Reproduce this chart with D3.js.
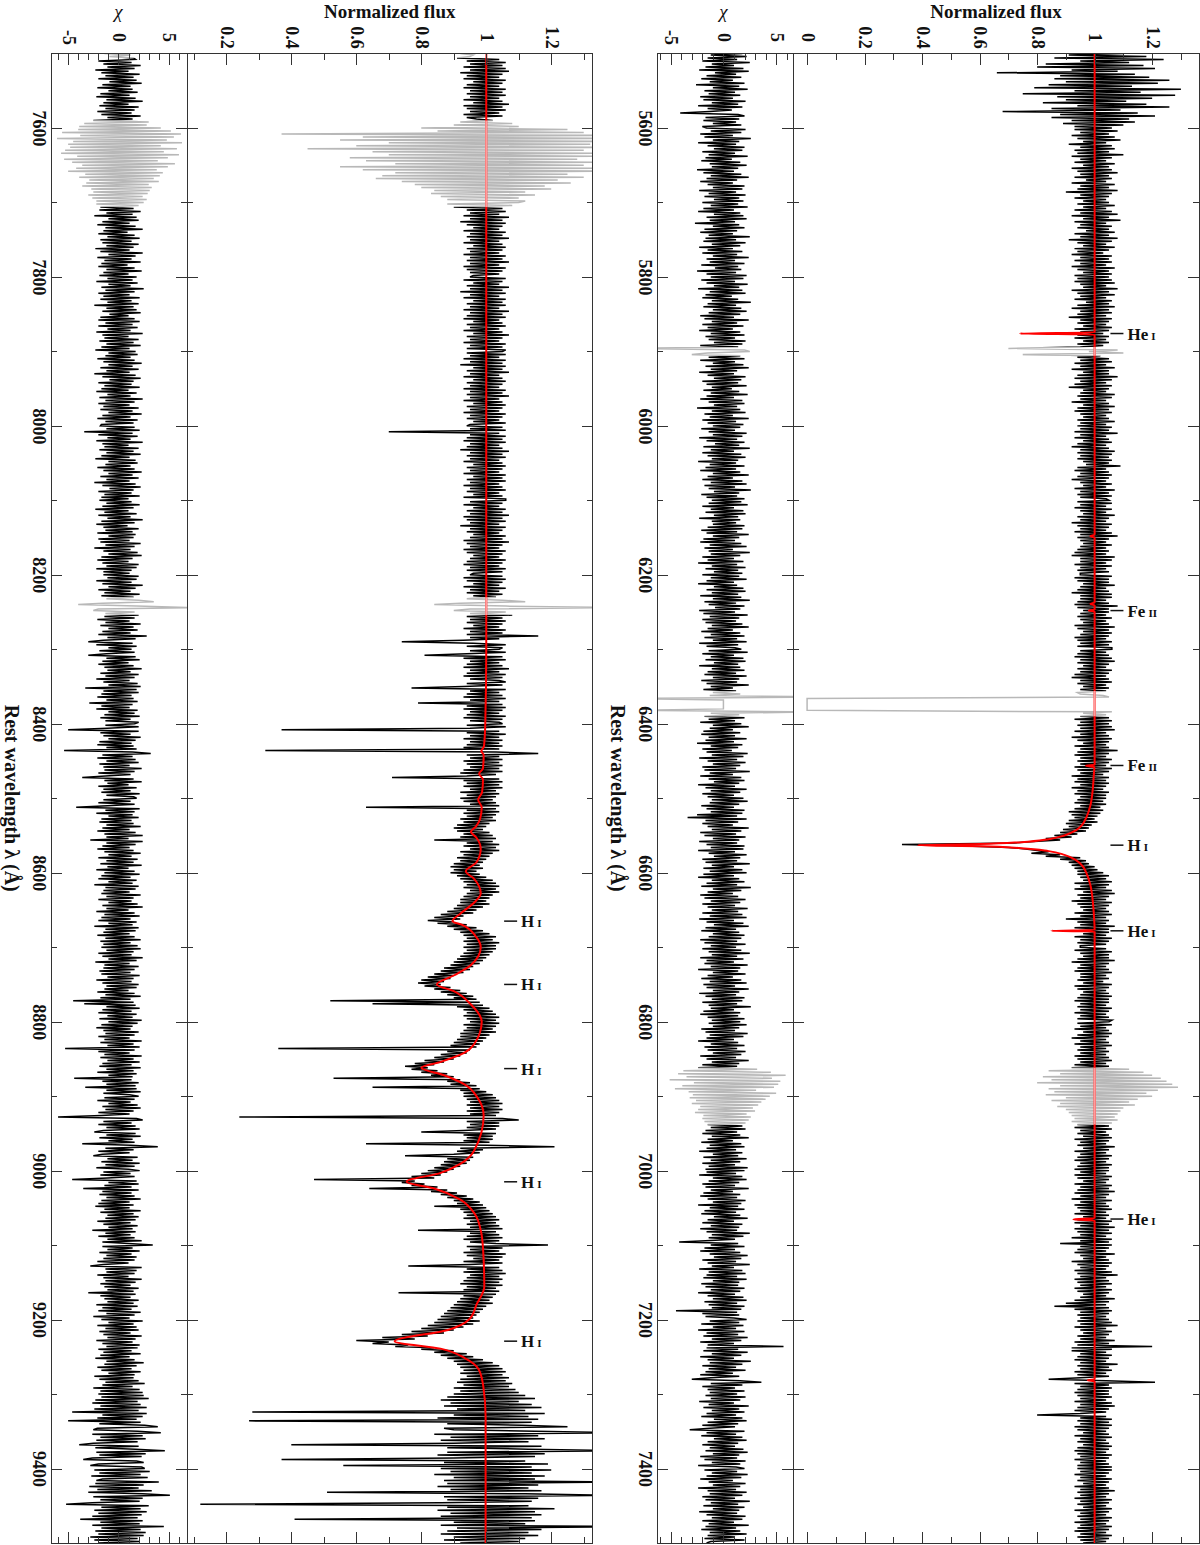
<!DOCTYPE html>
<html>
<head>
<meta charset="utf-8">
<script src="https://cdn.jsdelivr.net/npm/d3@7"></script>
<style>
  body { margin: 0; background: #fff; }
  svg text { font-family: "Liberation Serif", "Times New Roman", serif; font-weight: bold; fill: #111; }
</style>
</head>
<body>
<div id="chart"></div>
<script>
/**
 * Size of the page.
 */
var WIDTH = 1200, HEIGHT = 1545;

/**
 * Spectra are sampled every STEP angstrom from the panel start.
 */
var STEP = 2;
var topStart = 5500, botStart = 7500, SPAN = 2000;

// observed normalized flux, 5500-7500 A (five lines = 100 A)
var topFlux = [
  1.10, 0.91, 1.18, 0.86, 1.24, 0.95, 1.12, 0.83, 1.17, 0.80,
  1.21, 0.92, 1.08, 0.66, 1.14, 0.88, 1.19, 0.86, 1.26, 0.90,
  1.22, 0.84, 1.13, 0.79, 1.30, 0.93, 1.16, 0.75, 1.28, 0.87,
  1.20, 0.90, 1.11, 0.82, 1.18, 0.94, 1.26, 0.85, 1.09, 0.68,
  1.15, 0.88, 1.21, 0.85, 1.12, 0.92, 1.14, 0.89, 1.10, 0.93,
  1.06, 0.93, 1.08, 0.95, 1.05, 0.92, 1.07, 0.94, 1.09, 0.96,
  1.04, 0.91, 1.06, 0.95, 1.07, 0.93, 1.05, 0.94, 1.10, 0.92,
  1.06, 0.95, 1.04, 0.93, 1.07, 0.96, 1.05, 0.92, 1.06, 0.94,
  1.08, 0.95, 1.05, 0.93, 1.06, 0.97, 1.04, 0.92, 1.07, 0.95,
  1.05, 0.94, 1.08, 0.90, 1.06, 0.95, 1.05, 0.93, 1.04, 0.96,
  1.05, 0.94, 1.07, 0.96, 1.04, 0.93, 1.06, 0.95, 1.08, 0.92,
  1.05, 0.96, 1.09, 0.93, 1.04, 0.95, 1.06, 0.94, 1.05, 0.97,
  1.07, 0.93, 1.05, 0.95, 1.08, 0.91, 1.06, 0.94, 1.04, 0.96,
  1.07, 0.93, 1.05, 0.94, 1.03, 0.92, 1.06, 0.95, 1.05, 0.93,
  1.06, 0.95, 1.04, 0.92, 1.07, 0.94, 1.05, 0.96, 1.06, 0.93,
  1.05, 0.94, 1.06, 0.93, 1.07, 0.95, 1.04, 0.96, 1.08, 0.92,
  1.05, 0.94, 1.07, 0.95, 1.04, 0.93, 1.06, 0.97, 1.05, 0.94,
  1.07, 0.92, 1.05, 0.95, 1.06, 0.94, 1.04, 0.91, 1.06, 0.95,
  1.05, 0.94, 1.04, 0.96, 1.06, 0.93, 1.05, 0.95, 1.03, 0.94,
  1.05, 0.93, 1.04, 0.96, 1.05, 0.94, 1.03, 0.95, 0.70, 1.08,
  0.98, 1.10, 0.75, 1.02, 0.94, 1.05, 0.95, 1.06, 0.93, 1.04,
  0.95, 1.07, 0.92, 1.05, 0.96, 1.05, 0.94, 1.08, 0.93, 1.06,
  0.95, 1.04, 0.93, 1.06, 0.91, 1.05, 0.96, 1.04, 0.95, 1.07,
  0.94, 1.06, 0.95, 1.04, 0.92, 1.05, 0.96, 1.07, 0.94, 1.05,
  0.93, 1.06, 0.95, 1.04, 0.96, 1.05, 0.94, 1.07, 0.95, 1.04,
  0.94, 1.06, 0.95, 1.05, 0.93, 1.08, 0.95, 1.04, 0.93, 1.05,
  0.96, 1.06, 0.94, 1.04, 0.92, 1.05, 0.95, 1.07, 0.94, 1.06,
  0.95, 1.05, 0.94, 1.06, 0.96, 1.05, 0.97, 1.09, 0.94, 1.04,
  0.93, 1.05, 0.95, 1.06, 0.94, 1.05, 0.92, 1.04, 0.95, 1.06,
  0.96, 1.04, 0.93, 1.07, 0.95, 1.05, 0.94, 1.06, 0.95, 1.04,
  1.05, 0.94, 1.06, 0.95, 1.04, 0.93, 1.06, 0.95, 1.04, 0.96,
  1.07, 0.94, 1.05, 0.95, 1.04, 0.92, 1.06, 0.94, 1.05, 0.95,
  1.04, 0.93, 1.06, 0.95, 1.08, 0.94, 1.05, 0.95, 1.04, 0.96,
  1.06, 0.95, 1.04, 0.94, 1.05, 0.93, 1.04, 0.92, 1.07, 0.95,
  1.06, 0.95, 1.04, 0.93, 1.06, 0.95, 1.04, 0.94, 1.05, 0.95,
  0.95, 1.06, 0.93, 1.05, 0.94, 1.05, 0.96, 1.07, 0.95, 1.04,
  0.94, 1.05, 0.92, 1.06, 0.95, 1.06, 0.95, 1.04, 0.94, 1.05,
  0.93, 1.08, 0.94, 1.05, 0.96, 1.05, 0.95, 1.04, 0.94, 1.06,
  0.95, 1.04, 0.96, 1.05, 0.93, 1.07, 0.94, 1.05, 0.96, 1.06,
  0.95, 1.05, 0.93, 1.04, 0.94, 1.06, 0.95, 1.05, 0.94, 1.06,
  1.06, 0.95, 1.04, 0.94, 1.05, 0.93, 1.06, 0.95, 1.07, 0.94,
  1.05, 0.96, 1.04, 0.94, 1.06, 0.95, 1.05, 0.93, 1.04, 0.92,
  1.05, 0.95, 1.06, 0.94, 1.04, 0.96, 1.05, 0.95, 1.04, 0.94,
  0.95, 1.03, 1.05, 0.00, 0.00, 0.00, 0.00, 0.00, 0.00, 0.00,
  0.00, 0.00, 1.06, 0.96, 1.04, 0.95, 1.05, 0.93, 1.06, 0.95,
  1.05, 0.94, 1.06, 0.95, 1.07, 0.93, 1.04, 0.95, 1.05, 0.92,
  1.06, 0.94, 1.05, 0.96, 1.04, 0.93, 1.05, 0.95, 1.08, 0.94,
  1.05, 0.93, 1.04, 0.95, 1.06, 0.94, 1.05, 0.95, 1.04, 0.93,
  1.06, 0.94, 1.05, 0.95, 1.03, 0.92, 1.05, 0.94, 1.04, 0.93,
  1.05, 0.95, 1.04, 0.92, 1.03, 0.94, 1.05, 0.93, 1.04, 0.95,
  1.04, 0.94, 1.03, 0.93, 1.04, 0.95, 1.02, 0.93, 1.03, 0.91,
  1.02, 0.92, 1.01, 0.93, 1.00, 0.91, 1.01, 0.90, 0.99, 0.91,
  0.98, 0.89, 0.97, 0.88, 0.94, 0.86, 0.92, 0.83, 0.88, 0.79,
  0.72, 0.33, 0.55, 0.70, 0.76, 0.80, 0.84, 0.78, 0.88, 0.83,
  0.95, 0.88, 0.97, 0.91, 0.98, 0.92, 1.00, 0.93, 1.01, 0.94,
  1.03, 0.94, 1.05, 0.95, 1.04, 0.96, 1.06, 0.93, 1.05, 0.95,
  1.04, 0.93, 1.06, 0.96, 1.07, 0.94, 1.05, 0.95, 1.04, 0.92,
  1.06, 0.94, 1.05, 0.95, 1.04, 0.96, 1.05, 0.93, 1.06, 0.95,
  1.04, 0.90, 1.05, 0.94, 1.04, 0.95, 1.07, 0.93, 1.05, 0.94,
  1.05, 0.96, 1.04, 0.93, 1.06, 0.95, 1.05, 0.94, 1.04, 0.95,
  0.95, 1.04, 0.93, 1.06, 0.95, 1.05, 0.96, 1.05, 0.94, 1.07,
  0.92, 1.05, 0.95, 1.04, 0.94, 1.05, 0.93, 1.06, 0.95, 1.04,
  0.95, 1.05, 0.94, 1.03, 0.96, 1.06, 0.93, 1.05, 0.94, 1.04,
  0.96, 1.05, 0.95, 1.06, 0.94, 1.05, 0.93, 1.05, 0.95, 1.04,
  0.94, 1.06, 0.95, 1.05, 0.93, 1.04, 0.95, 1.05, 0.94, 1.06,
  1.05, 0.94, 1.06, 0.95, 1.04, 0.93, 1.05, 0.96, 1.06, 0.94,
  1.05, 0.92, 1.04, 0.95, 1.05, 0.93, 1.06, 0.95, 1.04, 0.94,
  1.05, 0.95, 1.04, 0.93, 1.05, 0.94, 1.06, 0.95, 1.04, 0.93,
  1.05, 0.92, 1.12, 0.84, 1.17, 0.88, 1.20, 0.82, 1.23, 0.85,
  1.25, 0.80, 1.27, 0.88, 1.29, 0.84, 1.22, 0.86, 1.18, 0.83,
  1.20, 0.90, 1.15, 0.85, 1.12, 0.88, 1.14, 0.87, 1.10, 0.90,
  1.09, 0.91, 1.08, 0.92, 1.07, 0.93, 1.08, 0.92, 1.06, 0.94,
  1.05, 0.93, 1.06, 0.95, 1.04, 0.94, 1.05, 0.96, 1.06, 0.93,
  1.05, 0.95, 1.04, 0.94, 1.07, 0.96, 1.05, 0.93, 1.04, 0.95,
  1.06, 0.94, 1.05, 0.93, 1.04, 0.95, 1.06, 0.94, 1.05, 0.93,
  1.05, 0.95, 1.04, 0.93, 1.06, 0.94, 1.05, 0.96, 1.04, 0.93,
  1.06, 0.95, 1.05, 0.94, 1.07, 0.93, 1.05, 0.95, 1.04, 0.92,
  1.06, 0.95, 1.04, 0.93, 1.05, 0.94, 1.06, 0.95, 1.04, 0.93,
  1.05, 0.96, 1.04, 0.94, 1.06, 0.93, 1.05, 0.95, 1.07, 0.93,
  1.05, 0.94, 1.06, 0.95, 1.04, 0.92, 1.06, 0.95, 1.05, 0.88,
  1.06, 0.95, 1.05, 0.94, 1.04, 0.93, 1.07, 0.95, 1.04, 0.96,
  1.05, 0.92, 1.06, 0.94, 1.05, 0.95, 1.04, 0.93, 1.06, 0.94,
  1.08, 0.95, 1.04, 0.93, 1.05, 0.94, 1.06, 0.95, 1.04, 0.93,
  1.06, 0.94, 1.05, 0.96, 1.04, 0.95, 1.07, 0.93, 1.05, 0.90,
  1.04, 0.86, 1.05, 0.93, 1.06, 0.95, 1.05, 0.94, 1.04, 0.95,
  1.05, 0.94, 1.06, 0.95, 1.08, 0.93, 1.04, 0.95, 1.06, 0.96,
  1.05, 0.94, 1.04, 0.95, 1.07, 0.93, 1.05, 0.94, 1.20, 0.92,
  1.06, 0.92, 1.04, 0.95, 1.06, 0.94, 1.05, 0.93, 1.04, 0.95,
  1.08, 0.94, 1.05, 0.95, 1.06, 0.93, 1.04, 0.94, 1.05, 0.95,
  0.84, 1.04, 1.21, 0.93, 1.05, 0.95, 1.06, 0.94, 1.05, 0.93,
  1.05, 0.94, 1.06, 0.95, 1.04, 0.93, 1.06, 0.95, 1.07, 0.94,
  1.05, 0.93, 1.04, 0.95, 0.80, 1.04, 0.95, 1.06, 0.94, 1.05,
  0.95, 1.06, 0.93, 1.05, 0.94, 1.04, 0.96, 1.05, 0.93, 1.06,
  0.95, 1.04, 0.94, 1.05, 0.96, 1.06, 0.94, 1.05, 0.93, 1.04,
  0.94, 1.06, 0.95, 1.05, 0.93, 1.04, 0.95, 1.05, 0.94, 1.06,
  0.94, 1.06, 0.95, 1.05, 0.93, 1.04, 0.95, 1.06, 0.94, 1.05,
  0.96, 1.04, 0.93, 1.05, 0.95, 1.07, 0.94, 1.05, 0.95, 1.04,
  0.93, 1.06, 0.95, 1.05, 0.94, 1.04, 0.96, 1.06, 0.93, 1.05,
  0.95, 1.04, 0.94, 1.06, 0.95, 1.05, 0.93, 1.04, 0.95, 1.06,
  0.94, 1.05, 0.93, 1.04, 0.95, 1.06, 0.94, 1.05, 0.95, 1.04,
  0.96
];

// residuals chi, 5500-7500 A
var topChi = [
  1.8, -1.2, 2.2, -1.5, 1.3, -2.0, 2.5, -1.1, 1.0, -1.7,
  1.9, -2.3, 2.4, -0.8, 1.2, -1.6, 1.7, -2.1, 0.9, -1.3,
  2.0, -2.6, 1.5, -1.0, 2.3, -1.8, 1.1, -1.4, 1.6, -2.2,
  0.9, -1.9, 2.1, -1.1, 1.4, -2.4, 1.8, -1.5, 0.8, -1.3,
  -4.1, 1.4, 2.0, -1.7, 1.5, -1.9, 1.2, -1.0, 1.7, -2.0,
  -1.6, 2.1, -1.2, 1.7, -2.2, 0.9, -1.8, 2.6, -1.0, 1.5,
  -2.4, 1.2, -1.5, 2.0, -0.9, 1.8, -2.0, 1.1, -1.4, 2.3,
  -1.7, 0.8, -2.1, 1.6, -1.3, 2.2, -1.1, 1.4, -2.5, 1.0,
  -1.9, 1.7, -1.2, 2.4, -1.6, 1.3, -2.2, 0.9, -1.5, 2.0,
  -1.0, 1.8, -2.3, 1.2, -1.4, 2.1, -1.8, 1.5, -0.9, 1.9,
  -2.0, 1.4, -1.2, 2.3, -1.9, 1.0, -2.4, 1.6, -0.9, 1.9,
  -1.6, 2.2, -1.3, 1.1, -2.7, 1.5, -1.0, 2.0, -1.8, 1.3,
  -2.2, 0.9, -1.4, 2.5, -1.7, 1.2, -1.9, 2.1, -1.1, 1.6,
  -2.3, 0.9, -1.5, 1.8, -2.0, 1.3, -1.0, 2.4, -1.6, 1.1,
  -1.3, 2.0, -2.1, 1.4, -0.8, 1.7, -2.5, 1.2, -1.6, 2.2,
  -1.2, 1.9, -2.1, 1.1, -1.6, 2.3, -0.9, 1.5, -2.4, 1.8,
  -1.3, 2.1, -1.7, 0.8, -2.0, 1.4, -1.1, 2.6, -1.5, 1.2,
  -1.9, 1.7, -1.0, 2.2, -1.4, 1.6, -2.2, 1.0, -1.8, 2.4,
  -1.1, 1.3, -2.0, 1.9, -1.5, 0.9, -2.3, 1.6, -1.2, 2.0,
  -1.7, 1.1, -1.4, 2.1, -0.9, 1.8, -2.2, 1.4, -9.0, 2.0,
  2.5, -1.5, -3.0, 1.6, -1.4, 2.0, -2.2, 1.1, -1.0, 1.9,
  -1.7, 2.4, -1.2, 1.3, -2.3, 1.0, -1.5, 2.1, -0.9, 1.7,
  -2.0, 1.4, -1.6, 2.2, -1.1, 0.8, -1.9, 1.5, -1.2, 2.3,
  -1.6, 1.0, -2.2, 1.8, -1.4, 2.0, -0.9, 1.3, -2.5, 1.6,
  -1.1, 2.1, -1.8, 0.9, -1.3, 2.4, -2.0, 1.2, -1.5, 1.9,
  -1.0, 1.6, -2.1, 1.1, -1.4, 2.2, -1.0, 1.8, -2.3, 1.3,
  -1.6, 2.0, -0.8, 1.5, -1.9, 2.5, -1.2, 1.0, -2.0, 1.7,
  -1.5, 2.1, -1.1, 1.4, -2.4, 1.2, -1.3, 2.0, -1.7, 1.2,
  -2.2, 1.6, -1.0, 2.4, -1.5, 0.9, -2.0, 1.8, -1.2, 2.2,
  -1.8, 1.1, -1.4, 2.6, -0.9, 1.5, -2.1, 1.3, -1.6, 2.0,
  -1.1, 1.7, -1.4, 2.3, -2.0, 1.0, -1.2, 1.9, -1.7, 2.1,
  -0.9, 1.4, -2.3, 1.6, -1.1, 1.2, -1.0, 2.0, -1.5, 1.8,
  -2.1, 1.3, -1.6, 2.4, -1.0, 1.5, -1.9, 1.1, -2.2, 1.7,
  -1.3, 2.2, -1.8, 0.9, -1.4, 2.5, -1.2, 1.6, -2.0, 1.0,
  -1.5, 1.9, -2.4, 1.3, -1.1, 2.1, -1.7, 1.4, -0.9, 1.8,
  -2.0, 1.5, -1.2, 2.2, -1.6, 1.0, -2.4, 1.3, -0.9, 1.9,
  -1.6, 2.1, -1.1, 1.4, -2.2, 1.7, -1.0, 2.5, -1.8, 1.2,
  -1.4, 2.0, -0.8, 1.6, -2.3, 1.1, -1.9, 2.3, -1.3, 1.5,
  -2.0, 1.2, -1.7, 1.8, -1.1, 2.4, -1.5, 0.9, -2.1, 1.6,
  -1.2, 2.0, -1.8, 1.3, -1.0, 2.2, -2.3, 1.4, -1.6, 1.1,
  1.7, -1.4, 2.3, -2.0, 1.0, -1.2, 1.9, -1.7, 2.1, -0.9,
  1.4, -2.3, 1.6, -1.1, 2.0, -1.5, 1.2, -1.8, 2.2, -1.0,
  1.5, -2.1, 1.3, -1.6, 2.4, -1.2, 0.9, -1.9, 1.2, -1.0,
  1.6, -1.3, 9.0, -9.0, 0.0, 0.0, 0.0, 0.0, 0.0, 0.0,
  0.0, -9.0, 9.0, -1.2, 1.5, -1.8, 2.0, -1.4, 1.1, -2.2,
  1.7, -1.0, 2.4, -1.3, 0.9, -1.9, 1.6, -2.1, 1.1, -1.4,
  2.2, -1.7, 1.0, -2.5, 1.8, -1.2, 1.4, -2.0, 0.8, -1.6,
  2.3, -1.1, 1.9, -2.3, 1.3, -1.5, 2.1, -1.0, 1.6, -2.0,
  1.2, -1.8, 2.5, -1.3, 0.9, -2.2, 1.7, -1.4, 2.0, -0.9,
  1.5, -2.4, 1.1, -1.7, 2.2, -1.2, 1.6, -2.0, 1.0, -1.5,
  1.9, -1.1, 2.3, -1.3, 1.5, -2.1, 1.0, -1.6, 2.0, -1.2,
  1.8, -2.5, 1.3, -3.4, 2.2, -1.7, 1.4, -2.0, 0.9, -1.5,
  2.4, -1.1, 1.7, -2.2, 1.2, -1.8, 2.1, -1.0, 1.5, -2.3,
  1.3, -1.6, 2.0, -1.2, 1.9, -2.4, 1.1, -1.4, 2.2, -0.9,
  1.6, -2.0, 1.3, -1.7, 2.5, -1.1, 1.0, -1.9, 1.8, -1.3,
  2.2, -1.9, 1.0, -2.4, 1.5, -1.1, 2.0, -1.6, 1.3, -2.1,
  2.6, -1.0, 1.7, -1.5, 0.9, -2.2, 1.4, -1.8, 2.1, -1.2,
  1.6, -2.0, 1.1, -1.5, 2.3, -1.1, 1.4, -2.0, 1.8, -1.3,
  2.2, -2.3, 1.0, -1.6, 1.9, -0.9, 2.4, -1.7, 1.2, -2.1,
  1.5, -1.0, 2.0, -1.4, 1.7, -2.2, 1.3, -1.8, 2.1, -1.2,
  1.2, -2.0, 1.7, -1.4, 2.5, -1.1, 1.3, -2.2, 1.9, -1.6,
  1.0, -1.8, 2.3, -1.2, 1.6, -2.4, 1.4, -1.0, 2.1, -1.5,
  0.9, -2.1, 1.7, -1.3, 2.2, -1.9, 1.1, -1.6, 2.4, -1.0,
  1.5, -2.3, 1.2, -1.7, 2.0, -1.1, 1.8, -2.0, 1.3, -1.4,
  2.6, -1.2, 1.0, -1.9, 1.6, -2.2, 1.4, -1.5, 2.0, -1.1,
  1.6, -1.4, 2.2, -1.0, 1.5, -2.1, 1.1, -1.7, 2.3, -1.3,
  1.9, -1.6, 1.0, -2.4, 1.4, -1.2, 2.0, -1.8, 1.3, -1.5,
  2.1, -1.0, 1.7, -2.2, 1.2, -1.6, 2.4, -1.1, 1.5, -2.0,
  1.3, -2.4, 3.2, -3.8, 4.5, -4.3, 5.9, -3.5, 4.6, -5.1,
  5.4, -2.8, 5.2, -3.9, 4.8, -4.6, 3.1, -3.3, 5.0, -2.9,
  4.4, -3.2, 4.0, -2.6, 3.6, -3.0, 3.3, -2.2, 2.8, -2.4,
  3.0, -2.7, 2.2, -1.9, 2.6, -2.0, 2.4, -1.8, 2.1, -1.5,
  1.8, -1.2, 2.1, -1.7, 1.3, -2.0, 1.6, -1.1, 2.4, -1.5,
  0.9, -2.1, 1.7, -1.3, 2.0, -1.6, 1.2, -2.3, 1.8, -1.0,
  1.4, -1.9, 2.2, -1.2, 1.6, -2.0, 1.1, -1.4, 2.3, -1.7,
  2.0, -1.6, 1.2, -2.3, 1.8, -1.0, 2.2, -1.4, 1.5, -2.0,
  1.1, -1.7, 2.4, -1.2, 0.9, -1.9, 1.6, -2.2, 1.3, -1.5,
  2.1, -1.0, 1.7, -2.4, 1.4, -1.3, 2.0, -1.8, 1.2, -2.1,
  1.6, -0.9, 2.3, -1.5, 1.0, -2.0, 1.8, -1.2, 1.5, -2.2,
  1.3, -1.6, 2.5, -1.1, 1.9, -1.4, 1.1, -1.7, -4.2, 1.4,
  -1.2, 2.0, -1.8, 1.1, -2.2, 1.6, -1.3, 2.3, -0.9, 1.7,
  -2.0, 1.2, -1.5, 2.5, -1.1, 1.0, -2.3, 1.8, -1.4, 2.1,
  -1.6, 1.3, -1.9, 2.2, -1.0, 1.5, -2.1, 1.4, -1.7, 2.0,
  -1.2, 1.6, -2.4, 1.1, -1.5, 1.9, -1.0, 2.2, -1.8, 1.3,
  -1.4, 2.0, -1.1, 1.7, -4.5, 1.3, -2.0, 1.5, -1.7, 1.0,
  2.2, -1.3, 1.5, -2.1, 1.9, -1.0, 1.2, -2.4, 2.0, -1.6,
  1.4, -1.9, 2.3, -1.1, 1.7, -2.2, 1.0, -1.5, 5.7, -1.6,
  1.4, -1.9, 2.3, -1.1, 1.7, -2.2, 1.0, -1.5, 2.6, -1.3,
  1.8, -2.0, 1.2, -1.4, 2.1, -1.7, 0.9, -2.2, 1.5, -1.2,
  -3.0, 1.6, 3.6, -1.2, 1.8, -2.0, 1.1, -1.5, 2.0, -1.3,
  1.3, -1.7, 2.1, -1.2, 1.6, -2.3, 1.0, -1.4, 2.4, -1.9,
  1.5, -1.1, 2.0, -1.6, 1.2, -2.1, 1.8, -0.9, 2.2, -1.5,
  1.4, -2.0, 1.1, -1.3, -3.2, 2.0, -1.6, 1.2, -2.1, 1.8,
  -0.9, 2.2, -1.5, 1.4, -2.0, 1.1, -1.3, 1.9, -1.7, 2.3,
  -1.0, 1.5, -2.2, 1.3, -1.8, 2.1, -1.1, 1.6, -2.4, 1.2,
  2.0, -1.8, 1.3, -1.1, 2.3, -1.6, 1.7, -2.2, 0.9, -1.4,
  2.1, -1.0, 1.6, -2.4, 1.2, -1.5, 2.2, -1.3, 1.8, -2.0,
  1.1, -1.7, 2.5, -1.2, 1.4, -1.9, 2.0, -1.0, 1.5, -2.3,
  1.3, -1.6, 2.1, -1.1, 1.8, -2.0, 1.0, -1.4, 2.4, -1.7,
  1.2, -2.1, 1.6, -1.3, 2.2, -1.5, 1.1, -1.8, 2.0, -1.2,
  -1.6
];

// observed normalized flux, 7500-9500 A
var botFlux = [
  0.92, 0.96, 0.95, 0.91, 1.04, 0.94, 1.06, 0.95, 1.05, 0.93,
  1.06, 0.95, 1.07, 0.92, 1.05, 0.94, 1.04, 0.93, 1.06, 0.96,
  1.05, 0.94, 1.04, 0.93, 1.06, 0.95, 1.05, 0.94, 1.06, 0.95,
  1.04, 0.93, 1.05, 0.96, 1.07, 0.93, 1.05, 0.94, 1.06, 0.95,
  1.04, 0.93, 1.05, 0.94, 0.97, 1.02, 0.92, 1.08, 0.90, 1.10,
  0.80, 1.25, 0.85, 1.30, 0.37, 1.38, 0.62, 1.36, 0.55, 1.38,
  0.70, 1.32, 0.60, 1.38, 0.45, 1.30, 0.65, 1.36, 0.70, 1.38,
  0.58, 1.28, 0.63, 1.37, 0.72, 1.30, 0.55, 1.34, 0.62, 1.38,
  0.72, 1.25, 0.68, 1.30, 0.66, 1.22, 0.74, 1.26, 0.78, 1.18,
  0.80, 1.20, 0.84, 1.12, 0.83, 1.15, 0.86, 1.10, 0.88, 1.12,
  1.10, 0.88, 1.08, 0.90, 1.05, 0.94, 1.06, 0.95, 1.04, 0.93,
  1.07, 0.95, 1.05, 0.92, 1.06, 0.94, 1.05, 0.96, 1.04, 0.93,
  1.06, 0.95, 1.05, 0.94, 1.07, 0.95, 1.04, 0.93, 1.05, 0.96,
  1.06, 0.94, 1.05, 0.95, 1.04, 0.93, 1.06, 0.95, 1.05, 0.94,
  1.07, 0.95, 1.04, 0.93, 1.06, 0.94, 1.05, 0.95, 1.04, 0.96,
  0.95, 1.06, 0.93, 1.05, 0.96, 1.04, 0.94, 1.07, 0.95, 1.05,
  0.92, 1.06, 0.95, 1.04, 0.93, 1.06, 0.96, 1.05, 0.94, 1.06,
  0.95, 1.04, 0.93, 1.07, 0.95, 1.05, 0.94, 1.06, 0.93, 1.04,
  0.96, 1.05, 0.94, 1.06, 0.95, 1.04, 0.93, 1.05, 0.96, 1.07,
  0.94, 1.05, 0.95, 1.04, 0.93, 1.06, 0.95, 1.05, 0.94, 1.06,
  1.05, 0.94, 1.06, 0.95, 1.04, 0.93, 1.06, 0.95, 1.05, 0.92,
  1.06, 0.96, 1.05, 0.94, 1.07, 0.95, 1.04, 0.93, 1.05, 0.96,
  1.06, 0.94, 1.05, 0.95, 1.04, 0.93, 1.06, 0.95, 1.05, 0.94,
  1.07, 0.95, 1.04, 0.93, 1.05, 0.96, 1.06, 0.94, 1.05, 0.95,
  1.04, 0.93, 1.06, 0.95, 1.05, 0.94, 1.04, 0.96, 1.06, 0.95,
  0.94, 1.05, 0.95, 1.06, 0.70, 1.04, 0.95, 1.06, 0.94, 1.05,
  0.93, 1.06, 0.95, 1.04, 0.94, 1.05, 0.92, 1.07, 0.95, 1.05,
  0.94, 1.06, 0.95, 1.04, 0.93, 1.05, 0.96, 1.06, 0.94, 1.05,
  0.95, 1.04, 0.93, 1.06, 0.96, 1.05, 0.94, 1.06, 0.95, 1.04,
  0.93, 1.05, 0.95, 1.06, 0.94, 1.04, 0.96, 1.05, 0.93, 1.06,
  1.06, 0.95, 1.05, 0.93, 1.04, 0.96, 1.06, 0.94, 1.05, 0.95,
  1.07, 0.93, 1.05, 0.94, 1.06, 0.95, 1.04, 0.92, 1.06, 0.95,
  1.05, 0.94, 1.04, 0.96, 1.06, 0.95, 1.05, 0.93, 1.07, 0.94,
  1.05, 0.95, 1.04, 0.93, 1.06, 0.94, 1.05, 0.96, 1.04, 0.95,
  1.06, 0.94, 1.05, 0.93, 1.04, 0.95, 1.06, 0.94, 1.05, 0.96,
  0.95, 1.05, 0.93, 1.06, 0.94, 1.05, 0.96, 1.04, 0.93, 1.06,
  0.95, 1.04, 0.94, 1.05, 0.96, 1.03, 0.94, 1.05, 1.12, 0.92,
  0.84, 1.06, 1.38, 0.95, 0.90, 1.06, 0.95, 1.08, 0.94, 1.05,
  0.95, 1.06, 0.94, 1.05, 0.96, 1.04, 0.93, 1.06, 0.95, 1.05,
  0.94, 1.16, 0.95, 1.04, 0.93, 0.74, 0.96, 1.06, 0.94, 1.05,
  1.04, 0.95, 1.06, 0.94, 0.81, 1.05, 0.93, 1.06, 0.95, 1.04,
  0.94, 1.05, 0.93, 1.07, 0.95, 1.04, 0.94, 1.06, 0.93, 1.05,
  0.95, 1.04, 1.06, 0.94, 1.05, 0.93, 0.77, 1.06, 0.95, 1.04,
  0.94, 1.05, 0.93, 1.06, 0.95, 1.04, 0.79, 1.05, 0.94, 1.06,
  0.93, 1.05, 0.95, 1.04, 0.94, 1.06, 0.93, 1.05, 0.95, 1.04,
  1.05, 0.94, 1.06, 0.95, 0.37, 1.04, 0.94, 1.06, 0.95, 1.04,
  0.93, 1.05, 0.95, 1.04, 0.94, 1.05, 0.93, 1.04, 0.32, 1.03,
  1.16, 0.94, 1.04, 0.95, 1.05, 0.93, 1.04, 0.94, 1.05, 0.95,
  1.04, 0.93, 1.05, 0.92, 1.03, 0.94, 0.71, 1.04, 0.93, 1.05,
  0.94, 1.04, 0.93, 1.05, 0.95, 1.03, 0.92, 1.04, 0.94, 1.03,
  0.92, 1.02, 0.93, 1.03, 0.95, 1.04, 0.63, 1.03, 0.94, 1.04,
  0.93, 1.03, 0.94, 1.02, 0.92, 1.03, 0.93, 1.01, 0.91, 1.00,
  0.90, 0.99, 0.91, 1.01, 0.93, 1.02, 0.92, 1.03, 0.84, 1.02,
  0.94, 1.04, 0.93, 1.03, 0.95, 1.04, 0.92, 1.02, 0.93, 1.01,
  0.91, 1.00, 0.92, 0.99, 0.90, 0.98, 0.89, 0.99, 0.90, 0.97,
  0.89, 0.98, 0.91, 1.00, 0.92, 1.02, 0.93, 1.03, 0.94, 1.04,
  0.93, 1.03, 0.95, 1.04, 0.94, 1.02, 0.93, 1.01, 0.92, 1.00,
  0.92, 1.01, 0.91, 0.99, 0.90, 0.97, 0.88, 0.96, 0.86, 0.93,
  0.84, 0.92, 0.82, 0.90, 0.85, 0.94, 0.88, 0.97, 0.90, 0.99,
  0.92, 1.01, 0.93, 1.03, 0.94, 1.02, 0.93, 1.04, 0.94, 1.03,
  0.93, 1.03, 0.94, 1.02, 0.93, 1.01, 0.92, 1.00, 0.91, 0.99,
  0.90, 0.98, 0.89, 0.96, 0.87, 0.95, 0.86, 0.93, 0.84, 0.90,
  0.82, 0.89, 0.80, 0.87, 0.79, 0.86, 0.81, 0.89, 0.84, 0.92,
  0.86, 0.94, 0.88, 0.96, 0.90, 0.97, 0.52, 0.98, 0.65, 0.99,
  0.91, 1.01, 0.93, 1.02, 0.94, 1.03, 0.93, 1.04, 0.94, 1.03,
  0.95, 1.04, 0.93, 1.03, 0.94, 1.02, 0.93, 1.03, 0.92, 1.01,
  0.92, 1.00, 0.91, 0.99, 0.90, 0.98, 0.89, 0.97, 0.36, 0.95,
  0.88, 0.94, 0.86, 0.92, 0.84, 0.90, 0.81, 0.87, 0.78, 0.84,
  0.75, 0.82, 0.77, 0.85, 0.80, 0.88, 0.83, 0.90, 0.53, 0.92,
  0.88, 0.95, 0.89, 0.97, 0.65, 0.98, 0.92, 1.00, 0.93, 1.02,
  0.93, 1.03, 0.94, 1.04, 0.95, 1.05, 0.94, 1.04, 0.95, 1.05,
  0.94, 1.04, 0.95, 1.03, 0.24, 1.05, 1.10, 0.94, 1.04, 0.95,
  1.04, 0.94, 1.03, 0.93, 0.80, 1.03, 0.93, 1.02, 0.94, 1.02,
  0.93, 1.01, 0.63, 1.00, 1.21, 0.92, 0.99, 0.91, 0.98, 0.90,
  0.75, 0.96, 0.88, 0.95, 0.87, 0.94, 0.86, 0.92, 0.84, 0.90,
  0.82, 0.88, 0.80, 0.86, 0.77, 0.84, 0.47, 0.78, 0.74, 0.81,
  0.77, 0.85, 0.64, 0.88, 0.83, 0.91, 0.86, 0.94, 0.88, 0.96,
  0.90, 0.98, 0.91, 0.99, 0.84, 1.00, 0.92, 1.01, 0.93, 1.02,
  0.94, 1.03, 0.93, 1.04, 0.95, 1.03, 0.94, 1.04, 0.95, 1.05,
  0.79, 1.03, 0.95, 1.04, 0.94, 1.05, 0.93, 1.04, 0.95, 1.03,
  1.19, 0.94, 1.05, 0.95, 1.04, 0.93, 1.06, 0.94, 1.05, 0.96,
  1.04, 0.93, 1.05, 0.95, 0.76, 1.04, 0.94, 1.05, 0.93, 1.06,
  0.95, 1.04, 0.94, 1.05, 0.93, 1.04, 0.92, 1.05, 0.94, 1.03,
  0.93, 1.04, 0.73, 1.03, 0.93, 1.02, 0.92, 1.01, 0.91, 1.02,
  0.90, 1.00, 0.89, 0.99, 0.88, 0.98, 0.87, 0.97, 0.86, 0.96,
  0.85, 0.98, 0.84, 0.96, 0.82, 0.93, 0.80, 0.90, 0.77, 0.87,
  0.74, 0.82, 0.68, 0.78, 0.60, 0.70, 0.65, 0.76, 0.72, 0.84,
  0.80, 0.90, 0.84, 0.94, 0.86, 0.96, 0.88, 0.99, 0.90, 1.02,
  0.91, 1.04, 0.92, 1.05, 0.93, 1.06, 0.92, 1.05, 0.94, 1.07,
  0.92, 1.06, 0.91, 1.08, 0.93, 1.07, 0.90, 1.09, 0.92, 1.10,
  0.90, 1.12, 0.88, 1.15, 0.86, 1.10, 0.89, 1.14, 0.87, 1.17,
  0.91, 1.12, 0.28, 1.18, 0.90, 1.13, 0.85, 1.16, 0.27, 1.14,
  0.88, 1.11, 1.25, 0.87, 0.90, 1.15, 1.42, 0.84, 1.16, 0.89,
  1.18, 0.86, 1.13, 0.90, 0.40, 1.17, 0.88, 1.13, 1.42, 0.88,
  1.18, 0.85, 1.15, 0.90, 0.37, 1.12, 0.87, 1.19, 0.56, 1.14,
  0.86, 1.20, 0.89, 1.14, 0.84, 1.18, 0.90, 1.15, 0.87, 1.42,
  0.88, 1.16, 0.85, 1.13, 0.89, 1.17, 0.51, 1.12, 1.42, 0.87,
  1.16, 0.88, 1.14, 0.86, 0.12, 1.13, 0.88, 1.21, 0.85, 1.15,
  0.89, 1.17, 0.86, 1.14, 0.41, 1.15, 0.90, 1.12, 0.86, 1.42,
  0.91, 1.17, 0.88, 1.13, 0.86, 1.16, 0.90, 1.12, 0.87, 1.10,
  0.92
];

// residuals chi, 7500-9500 A
var botChi = [
  -1.4, 1.2, -0.9, 1.5, 1.7, -2.0, 1.3, -1.5, 2.2, -1.1,
  1.6, -2.3, 1.0, -1.7, 2.1, -1.3, 1.5, -2.0, 1.8, -0.9,
  2.3, -1.6, 1.2, -2.1, 1.4, -1.0, 1.9, -1.8, 1.1, -2.2,
  1.7, -1.2, 2.4, -1.5, 1.0, -1.9, 2.0, -1.3, 1.6, -2.1,
  1.3, -1.7, 2.2, -1.1, 1.4, -2.5, 3.0, -3.4, 2.8, -3.9,
  4.2, -4.0, 5.2, -5.6, 6.2, -3.8, 5.5, -6.1, 4.8, -4.5,
  6.3, -5.0, 4.2, -4.8, 5.8, -5.3, 4.5, -5.7, 6.0, -4.1,
  4.9, -5.4, 3.9, -4.6, 5.6, -3.6, 4.9, -4.2, 3.8, -5.0,
  4.4, -3.3, 4.1, -3.9, 3.5, -2.9, 4.0, -3.2, 3.0, -3.6,
  3.3, -2.7, 3.1, -2.5, 2.9, -3.0, 2.4, -2.6, 2.8, -2.2,
  2.5, -2.2, 2.0, -1.8, 1.5, -1.9, 2.2, -1.2, 1.4, -2.4,
  1.8, -1.0, 2.0, -1.6, 1.1, -2.1, 1.7, -1.3, 2.4, -1.5,
  0.9, -2.0, 1.6, -1.1, 2.1, -1.8, 1.3, -1.6, 2.0, -1.2,
  1.5, -2.3, 1.1, -1.8, 2.4, -1.0, 1.7, -2.1, 1.3, -1.4,
  2.2, -1.7, 0.9, -2.0, 1.6, -1.2, 2.3, -1.5, 1.0, -1.9,
  1.8, -1.1, 1.4, -2.2, 1.9, -1.0, 1.2, -1.7, 2.5, -1.3,
  1.6, -2.0, 1.1, -1.5, 2.1, -1.8, 1.3, -1.1, 2.0, -2.4,
  1.5, -1.2, 1.8, -1.6, 2.2, -0.9, 1.0, -1.8, 1.6, -2.0,
  2.1, -1.3, 1.4, -2.0, 1.9, -1.1, 1.2, -2.2, 2.4, -1.6,
  1.0, -1.4, 2.0, -1.9, 1.5, -1.2, 2.2, -1.7, 1.1, -2.3,
  1.7, -1.0, 1.9, -1.3, 1.2, -2.1, 1.6, -1.5, 2.3, -1.0,
  1.4, -1.8, 2.0, -1.2, 1.1, -2.4, 1.7, -1.6, 2.2, -0.9,
  1.5, -2.0, 1.3, -1.4, 2.1, -1.7, 1.0, -2.2, 1.8, -1.1,
  1.2, -1.9, 2.4, -1.3, 1.6, -2.0, 1.1, -1.5, 2.0, -1.8,
  1.4, -1.0, 2.3, -1.6, 1.2, -2.1, 1.9, -1.3, 1.5, -1.7,
  -1.8, 1.6, -1.2, 2.1, -3.4, 1.4, -2.0, 1.9, -1.1, 1.2,
  -2.2, 2.4, -1.6, 1.0, -1.4, 2.0, -1.9, 1.5, -1.2, 2.2,
  -1.7, 1.1, -2.3, 1.7, -1.0, 1.9, -1.3, 1.2, -2.1, 1.6,
  -1.5, 2.3, -1.0, 1.4, -1.8, 2.0, -1.2, 1.1, -2.4, 1.7,
  -1.6, 2.2, -0.9, 1.5, -2.0, 1.3, -1.4, 2.1, -1.7, 1.0,
  -1.9, 1.3, -1.2, 2.1, -1.6, 1.5, -2.3, 1.0, -1.4, 1.8,
  -2.0, 1.2, -1.1, 2.4, -1.7, 1.6, -2.2, 0.9, -1.5, 2.0,
  -1.3, 1.4, -2.1, 1.7, -1.0, 1.5, -2.0, 1.1, -1.8, 2.2,
  -1.3, 1.6, -2.4, 1.2, -1.5, 1.9, -1.0, 2.3, -1.7, 1.4,
  -2.1, 1.0, -1.6, 2.0, -1.2, 1.8, -2.2, 1.3, -1.5, 1.1,
  -1.5, 2.0, -1.1, 1.8, -2.2, 1.3, -1.6, 2.4, -1.0, 1.7,
  -2.0, 1.2, -1.4, 2.1, -1.7, 1.5, -1.2, 2.0, 3.5, -1.6,
  -4.0, 1.8, 7.5, -2.0, -2.5, 1.6, -1.3, 2.0, -1.4, 1.6,
  -2.1, 1.1, -1.3, 2.2, -1.8, 1.5, -1.0, 1.9, -1.6, 1.2,
  -2.0, 2.8, -1.1, 1.7, -1.5, -3.0, 1.4, -2.2, 1.8, -1.0,
  1.3, -1.9, 1.6, -1.2, -3.0, 1.7, -1.2, 2.1, -1.6, 1.0,
  -2.0, 1.5, -1.4, 2.3, -1.1, 1.2, -1.8, 2.0, -1.3, 1.6,
  -2.2, 1.1, -1.5, 1.9, -1.0, 2.2, -3.3, 1.8, -1.5, 2.0,
  -1.7, 1.3, -2.1, 1.5, -1.2, 1.9, -2.9, 1.4, -1.7, 1.1,
  -2.2, 1.9, -1.0, 1.6, -1.4, 2.1, -1.8, 1.2, -1.3, 2.0,
  1.6, -1.3, 2.0, -1.1, -5.0, 2.0, -1.8, 1.2, -1.5, 2.2,
  -1.0, 1.7, -1.9, 1.3, -2.1, 1.5, -1.2, 1.8, -5.4, 1.4,
  3.2, -1.6, 1.4, -2.1, 1.7, -1.2, 2.0, -1.9, 1.1, -1.5,
  2.3, -1.4, 1.6, -2.0, 1.2, -1.3, -3.6, 1.5, -1.4, 2.3,
  -1.1, 1.0, -2.0, 1.8, -1.5, 1.2, -1.7, 2.1, -1.2, 1.5,
  1.8, -1.5, 1.2, -2.0, 1.6, -1.1, -4.2, 2.1, -1.3, 1.6,
  -2.2, 1.4, -1.0, 2.0, -1.7, 1.3, -1.9, 1.5, -1.2, 2.2,
  -1.6, 1.1, -2.1, 1.7, -1.4, 2.4, -1.2, 1.0, -2.8, 2.4,
  -1.2, 1.7, -1.6, 1.1, -2.1, 1.5, -1.4, 2.2, -1.0, 1.3,
  -2.0, 1.9, -1.2, 1.5, -1.8, 2.3, -1.1, 1.0, -2.2, 1.6,
  -1.4, 2.1, -1.7, 1.2, -2.0, 1.8, -1.0, 1.4, -2.4, 2.0,
  -1.3, 1.7, -1.5, 1.1, -1.7, 2.2, -1.2, 1.5, -2.0, 1.3,
  -1.0, 1.9, -1.6, 2.4, -1.2, 1.0, -2.2, 1.6, -1.4, 2.1,
  -1.7, 1.2, -2.0, 1.8, -1.0, 1.4, -2.4, 2.0, -1.3, 1.7,
  -1.5, 1.1, -2.1, 1.6, -1.3, 2.2, -1.8, 1.2, -1.5, 1.9,
  -1.7, 2.2, -1.2, 1.5, -2.0, 1.3, -1.6, 2.4, -1.0, 1.8,
  -2.3, 1.1, -1.4, 2.0, -1.5, 1.6, -1.9, 1.2, -1.7, 2.1,
  -1.1, 1.5, -2.2, 1.3, -1.6, 2.0, -1.2, 1.8, -1.4, 1.0,
  -2.1, 1.6, -1.3, 2.2, -1.8, 1.2, -4.5, 1.5, -3.4, 1.7,
  -1.2, 2.1, -1.6, 1.3, -2.0, 1.8, -1.1, 1.4, -1.9, 2.3,
  -1.0, 1.9, -1.7, 1.4, -2.2, 1.2, -1.5, 2.0, -1.3, 1.6,
  -2.0, 1.1, -1.4, 2.3, -1.8, 1.5, -1.1, 2.1, -5.3, 1.6,
  -2.0, 1.1, -1.4, 2.3, -1.8, 1.5, -1.1, 2.1, -1.6, 1.3,
  -1.9, 2.2, -1.2, 1.5, -2.1, 1.8, -1.0, 1.4, -4.4, 1.3,
  -1.6, 2.0, -1.2, 1.7, -3.3, 1.8, -1.2, 2.2, -1.5, 1.1,
  2.0, -1.4, 1.6, -2.1, 1.2, -1.0, 1.9, -1.6, 2.2, -1.3,
  1.5, -2.0, 1.1, -1.7, -6.0, 1.8, 2.4, -1.5, 1.3, -2.0,
  1.7, -1.2, 2.1, -1.5, -2.4, 1.7, -1.2, 2.2, -1.9, 1.4,
  -1.0, 1.6, -3.6, 1.2, 3.9, -1.3, 1.5, -2.0, 1.1, -1.6,
  -2.5, 1.9, -1.1, 1.4, -1.7, 2.1, -1.3, 1.6, -2.2, 1.0,
  2.1, -1.5, 1.2, -1.8, 1.6, -1.1, -4.6, 1.8, -1.0, 2.0,
  -1.4, 1.3, -3.5, 2.0, -1.6, 1.3, -1.9, 1.6, -1.2, 2.2,
  -1.7, 1.1, -2.0, 1.5, -2.3, 1.1, -1.4, 2.2, -1.8, 1.5,
  -1.1, 2.0, -1.3, 1.7, -2.1, 1.2, -1.5, 1.9, -1.0, 1.4,
  -2.6, 1.7, -1.3, 1.2, -2.0, 1.6, -1.1, 2.3, -1.6, 1.0,
  3.4, -1.6, 1.4, -1.1, 2.1, -1.9, 1.3, -1.2, 1.8, -1.5,
  1.6, -2.1, 1.0, -1.5, -2.8, 2.3, -1.3, 1.8, -1.2, 1.6,
  -2.1, 1.0, -1.5, 2.3, -1.3, 1.7, -1.8, 1.2, -1.4, 2.0,
  -1.1, 1.5, -3.0, 1.7, -1.8, 1.2, -1.4, 2.0, -1.1, 1.5,
  -2.2, 1.9, -1.6, 1.3, -2.0, 2.2, -1.2, 1.6, -2.5, 1.1,
  -1.7, 2.4, -1.0, 1.5, -2.1, 1.8, -1.3, 2.0, -1.9, 1.2,
  -1.5, 2.3, -1.1, 1.7, -2.2, 1.4, -1.6, 2.1, -1.2, 1.9,
  -2.0, 1.3, -1.5, 2.2, -1.8, 1.1, -2.3, 1.6, -1.2, 2.5,
  -1.4, 1.8, -2.1, 1.3, -1.7, 2.2, -1.0, 1.6, -2.4, 1.5,
  -1.9, 2.0, -1.3, 2.6, -1.6, 1.4, -2.5, 2.1, -1.8, 2.4,
  -2.0, 2.5, -1.7, 3.0, -2.3, 1.9, -2.6, 2.2, -1.8, 2.8,
  -2.4, 2.0, -4.6, 2.8, -1.6, 2.4, -2.1, 1.8, -5.0, 2.2,
  -1.9, 2.6, 3.9, -2.1, -2.5, 1.9, 4.2, -2.6, 2.4, -1.8,
  2.7, -2.2, 1.9, -2.5, -3.9, 2.0, -2.3, 1.7, 4.6, -2.2,
  2.7, -1.9, 2.3, -2.6, -3.5, 1.8, 2.5, -2.0, -2.8, 2.3,
  2.6, -2.4, 3.1, -1.9, 2.2, -2.7, 2.9, -1.6, -2.2, 4.0,
  -2.3, 2.5, -2.9, 2.0, -2.1, 3.3, -3.0, 2.4, 5.1, -2.5,
  2.4, -1.8, 2.1, -2.6, -5.2, 3.0, -1.7, 2.2, -2.4, 2.8,
  -2.0, 2.3, -2.6, 1.9, -3.8, 2.4, -1.8, 2.1, -2.6, 4.5,
  -1.7, 2.2, -2.3, 2.7, -2.0, 2.5, -2.8, 1.9, -2.4, 2.1,
  -2.0
];

// model fit, [wavelength, normalized flux]
var topModel = [
  [5500, 1.0], [5874.5, 1.0], [5876, 0.74], [5877.5, 1.0], [6146, 1.0], [6148, 0.985], [6150, 1.0],
  [6237, 1.0], [6239, 0.985], [6241, 1.0], [6246.5, 1.0], [6248, 0.98], [6249.5, 1.0],
  [6455, 1.0], [6456.5, 0.97], [6458, 0.999], [6470, 0.997], [6490, 0.993], [6510, 0.985], [6525, 0.972],
  [6535, 0.958], [6543, 0.935], [6550, 0.895], [6555, 0.84], [6559, 0.745], [6561.5, 0.6], [6563, 0.385],
  [6564.5, 0.6], [6567, 0.745], [6571, 0.84], [6576, 0.895], [6583, 0.935], [6591, 0.958], [6601, 0.972],
  [6616, 0.985], [6636, 0.993], [6660, 0.998], [6677, 1.0], [6678, 0.85], [6679, 1.0],
  [7064, 1.0], [7065.5, 0.926], [7067, 1.0], [7280, 1.0], [7281.5, 0.976], [7283, 1.0], [7500, 1.0]
];
var botModel = [
  [7500, 1.0], [8300, 1.0], [8400, 0.997], [8430, 0.993], [8437, 0.985], [8442, 0.992], [8460, 0.99],
  [8467, 0.978], [8475, 0.99], [8492, 0.987], [8502, 0.975], [8512, 0.986], [8528, 0.981], [8538, 0.968],
  [8545, 0.953], [8553, 0.97], [8568, 0.983], [8586, 0.97], [8598, 0.937], [8608, 0.962], [8628, 0.983],
  [8640, 0.963], [8655, 0.92], [8665, 0.896], [8670, 0.926], [8685, 0.967], [8700, 0.983], [8724, 0.953],
  [8738, 0.90], [8750, 0.848], [8759, 0.90], [8777, 0.953], [8800, 0.986], [8830, 0.963], [8842, 0.932],
  [8854, 0.86], [8862, 0.80], [8872, 0.87], [8884, 0.932], [8902, 0.973], [8926, 0.992], [8973, 0.963],
  [8991, 0.92], [9003, 0.86], [9015, 0.755], [9024, 0.84], [9039, 0.92], [9057, 0.963], [9080, 0.983],
  [9104, 0.99], [9156, 0.994], [9179, 0.971], [9200, 0.947], [9214, 0.882], [9229, 0.718], [9239, 0.859],
  [9252, 0.935], [9267, 0.977], [9290, 0.991], [9330, 0.998], [9500, 0.998]
];

// wavelength ranges drawn in grey (masked in the fit)
var topMask = [[5894, 5906], [6356, 6390], [6862, 6938]];
var botMask = [[7500, 7506], [7590, 7706], [8230, 8254]];

// line identifications: [wavelength, element, ion]
var topLines = [[5876, "He", "I"], [6248, "Fe", "II"], [6456, "Fe", "II"], [6563, "H", "I"], [6678, "He", "I"], [7065, "He", "I"]];
var botLines = [[8665, "H", "I"], [8750, "H", "I"], [8863, "H", "I"], [9015, "H", "I"], [9229, "H", "I"]];

// ticks
var topFluxTicks = [0, 0.2, 0.4, 0.6, 0.8, 1, 1.2];
var botFluxTicks = [0.2, 0.4, 0.6, 0.8, 1, 1.2];
var chiTicks = [-5, 0, 5];
var topWaveTicks = [5600, 5800, 6000, 6200, 6400, 6600, 6800, 7000, 7200, 7400];
var botWaveTicks = [7600, 7800, 8000, 8200, 8400, 8600, 8800, 9000, 9200, 9400];

var FRAME = "#333", GREY = "#b8b8b8", RED = "#ff0000", PINK = "#ff9c9c";
var Y0 = 53.5, Y1 = 1543;

var SVG = d3.select("#chart").append("svg")
    .attr("width", WIDTH)
    .attr("height", HEIGHT);
var DEFS = SVG.append("defs");

/**
 * Complement of a list of ranges inside [a, b].
 */
function complement(ranges, a, b) {
    var out = [], cur = a;
    ranges.forEach(function (r) {
        if (r[0] > cur) out.push([cur, r[0]]);
        cur = Math.max(cur, r[1]);
    });
    if (cur < b) out.push([cur, b]);
    return out;
}

function fixAxis(g) {
    g.attr("font-family", null).attr("font-size", null);
    g.select(".domain").remove();
    g.selectAll(".tick line").attr("stroke", FRAME).attr("shape-rendering", "crispEdges");
    return g;
}

function drawPanel(p) {
    var end = p.start + SPAN;
    var y = d3.scaleLinear().domain([p.start, end]).range([Y0, Y1]);
    var xf = d3.scaleLinear().domain(p.fluxDomain).range([p.xMid, p.xRight]);
    var xc = d3.scaleLinear().domain(p.chiDomain).range([p.xLeft, p.xMid]);
    var waves = d3.range(p.start, end + 1, STEP);
    var G = SVG.append("g");

    function clip(id, xr, ranges) {
        var cp = DEFS.append("clipPath").attr("id", id);
        ranges.forEach(function (r) {
            cp.append("rect").attr("x", xr[0]).attr("width", xr[1] - xr[0])
                .attr("y", y(r[0])).attr("height", y(r[1]) - y(r[0]));
        });
    }
    var keep = complement(p.mask, p.start, end);
    clip(p.id + "f", xf.range(), [[p.start, end]]);
    clip(p.id + "fm", xf.range(), p.mask);
    clip(p.id + "fu", xf.range(), keep);
    clip(p.id + "cm", xc.range(), p.mask);
    clip(p.id + "cu", xc.range(), keep);

    var fluxLine = d3.line().x(function (d) { return xf(d[1]); }).y(function (d) { return y(d[0]); });
    var chiLine = d3.line().x(function (d) { return xc(d[1]); }).y(function (d) { return y(d[0]); });
    var modelLine = d3.line().curve(d3.curveMonotoneY)
        .x(function (d) { return xf(d[1]); }).y(function (d) { return y(d[0]); });
    var fluxPts = waves.map(function (w, i) { return [w, p.flux[i]]; });
    var chiPts = waves.map(function (w, i) { return [w, p.chi[i]]; });

    // spectrum: black where fitted, grey where masked
    [["fu", "#000"], ["fm", GREY]].forEach(function (s) {
        G.append("path").attr("d", fluxLine(fluxPts)).attr("clip-path", "url(#" + p.id + s[0] + ")")
            .attr("fill", "none").attr("stroke", s[1]).attr("stroke-width", 1.5);
    });
    [["cu", "#000"], ["cm", GREY]].forEach(function (s) {
        G.append("path").attr("d", chiLine(chiPts)).attr("clip-path", "url(#" + p.id + s[0] + ")")
            .attr("fill", "none").attr("stroke", s[1]).attr("stroke-width", 1.5);
    });

    // model
    G.append("path").attr("d", modelLine(p.model)).attr("clip-path", "url(#" + p.id + "f)")
        .attr("fill", "none").attr("stroke", RED).attr("stroke-width", 2);
    G.append("path").attr("d", modelLine(p.model)).attr("clip-path", "url(#" + p.id + "fm)")
        .attr("fill", "none").attr("stroke", PINK).attr("stroke-width", 2);

    // frames
    G.append("rect").attr("x", xc.range()[0]).attr("y", Y0).attr("width", xc.range()[1] - xc.range()[0])
        .attr("height", Y1 - Y0).attr("fill", "none").attr("stroke", FRAME).attr("shape-rendering", "crispEdges");
    G.append("rect").attr("x", xf.range()[0]).attr("y", Y0).attr("width", xf.range()[1] - xf.range()[0])
        .attr("height", Y1 - Y0).attr("fill", "none").attr("stroke", FRAME).attr("shape-rendering", "crispEdges");

    // flux and chi axes along the top and bottom
    var fluxMinor = d3.range(Math.ceil(p.fluxDomain[0] * 10), Math.floor(p.fluxDomain[1] * 10) + 1).map(function (k) { return k / 10; });
    var chiMinor = d3.range(-6, 7);
    var waveMinor = d3.range(p.start + 100, end, 100);

    var gt = G.append("g").attr("transform", "translate(0," + Y0 + ")");
    fixAxis(gt.append("g").call(d3.axisTop(xf).tickValues(fluxMinor).tickSize(-6).tickFormat("")));
    var ft = fixAxis(gt.append("g").call(d3.axisTop(xf).tickValues(p.fluxTicks).tickSize(-11).tickFormat(String)));
    fixAxis(gt.append("g").call(d3.axisTop(xc).tickValues(chiMinor).tickSize(-6).tickFormat("")));
    var ct = fixAxis(gt.append("g").call(d3.axisTop(xc).tickValues(chiTicks).tickSize(-11).tickFormat(String)));
    [ft, ct].forEach(function (g) {
        g.selectAll("text").attr("y", null).attr("dy", null)
            .attr("transform", "translate(0,-16) rotate(90)")
            .attr("text-anchor", "middle").attr("dominant-baseline", "central")
            .style("font-size", "18px");
    });

    var gb = G.append("g").attr("transform", "translate(0," + Y1 + ")");
    fixAxis(gb.append("g").call(d3.axisBottom(xf).tickValues(fluxMinor).tickSize(-6).tickFormat("")));
    fixAxis(gb.append("g").call(d3.axisBottom(xf).tickValues(p.fluxTicks).tickSize(-11).tickFormat("")));
    fixAxis(gb.append("g").call(d3.axisBottom(xc).tickValues(chiMinor).tickSize(-6).tickFormat("")));
    fixAxis(gb.append("g").call(d3.axisBottom(xc).tickValues(chiTicks).tickSize(-11).tickFormat("")));

    // wavelength axes on every vertical border
    var gl = G.append("g").attr("transform", "translate(" + p.xLeft + ",0)");
    fixAxis(gl.append("g").call(d3.axisLeft(y).tickValues(waveMinor).tickSize(-6).tickFormat("")));
    var wl = fixAxis(gl.append("g").call(d3.axisLeft(y).tickValues(p.waveTicks).tickSize(-11).tickFormat(String)));
    wl.selectAll("text").attr("x", null).attr("dy", null)
        .attr("transform", "translate(-12,0) rotate(90)")
        .attr("text-anchor", "middle").attr("dominant-baseline", "central")
        .style("font-size", "18px");

    var gm = G.append("g").attr("transform", "translate(" + p.xMid + ",0)");
    [[d3.axisRight, -6, waveMinor], [d3.axisRight, -11, p.waveTicks], [d3.axisLeft, -6, waveMinor], [d3.axisLeft, -11, p.waveTicks]]
        .forEach(function (a) {
            fixAxis(gm.append("g").call(a[0](y).tickValues(a[2]).tickSize(a[1]).tickFormat("")));
        });
    var gr = G.append("g").attr("transform", "translate(" + p.xRight + ",0)");
    fixAxis(gr.append("g").call(d3.axisRight(y).tickValues(waveMinor).tickSize(-6).tickFormat("")));
    fixAxis(gr.append("g").call(d3.axisRight(y).tickValues(p.waveTicks).tickSize(-11).tickFormat("")));

    // titles
    G.append("text").attr("x", (xf.range()[0] + xf.range()[1]) / 2).attr("y", 11)
        .attr("text-anchor", "middle").attr("dominant-baseline", "central")
        .style("font-size", "19px").text("Normalized flux");
    G.append("text").attr("x", xc(0)).attr("y", 11)
        .attr("text-anchor", "middle").attr("dominant-baseline", "central")
        .style("font-size", "19px").style("font-style", "italic").style("font-weight", "normal").text("\u03c7");
    G.append("text").attr("transform", "translate(" + (p.xLeft - 39) + "," + ((Y0 + Y1) / 2) + ") rotate(90)")
        .attr("text-anchor", "middle").attr("dominant-baseline", "central")
        .style("font-size", "20px").text("Rest wavelength \u03bb (\u00c5)");

    // line identifications
    var lx = xf(1.055);
    p.lines.forEach(function (l) {
        G.append("line").attr("x1", lx).attr("x2", lx + 13).attr("y1", y(l[0])).attr("y2", y(l[0]))
            .attr("stroke", "#111").attr("stroke-width", 1.5);
        var t = G.append("text").attr("x", lx + 17).attr("y", y(l[0]) + 6).style("font-size", "17px");
        t.append("tspan").text(l[1]);
        t.append("tspan").attr("dx", 3).style("font-size", "11px").text(l[2]);
    });
}

drawPanel({
    id: "p1", start: topStart, flux: topFlux, chi: topChi, model: topModel, mask: topMask, lines: topLines,
    xLeft: 657, xMid: 793, xRight: 1199, fluxDomain: [-0.049, 1.363], chiDomain: [-6.3, 6.6],
    fluxTicks: topFluxTicks, waveTicks: topWaveTicks
});
drawPanel({
    id: "p2", start: botStart, flux: botFlux, chi: botChi, model: botModel, mask: botMask, lines: botLines,
    xLeft: 51, xMid: 187, xRight: 592.5, fluxDomain: [0.079, 1.327], chiDomain: [-6.7, 6.8],
    fluxTicks: botFluxTicks, waveTicks: botWaveTicks
});
</script>
</body>
</html>
